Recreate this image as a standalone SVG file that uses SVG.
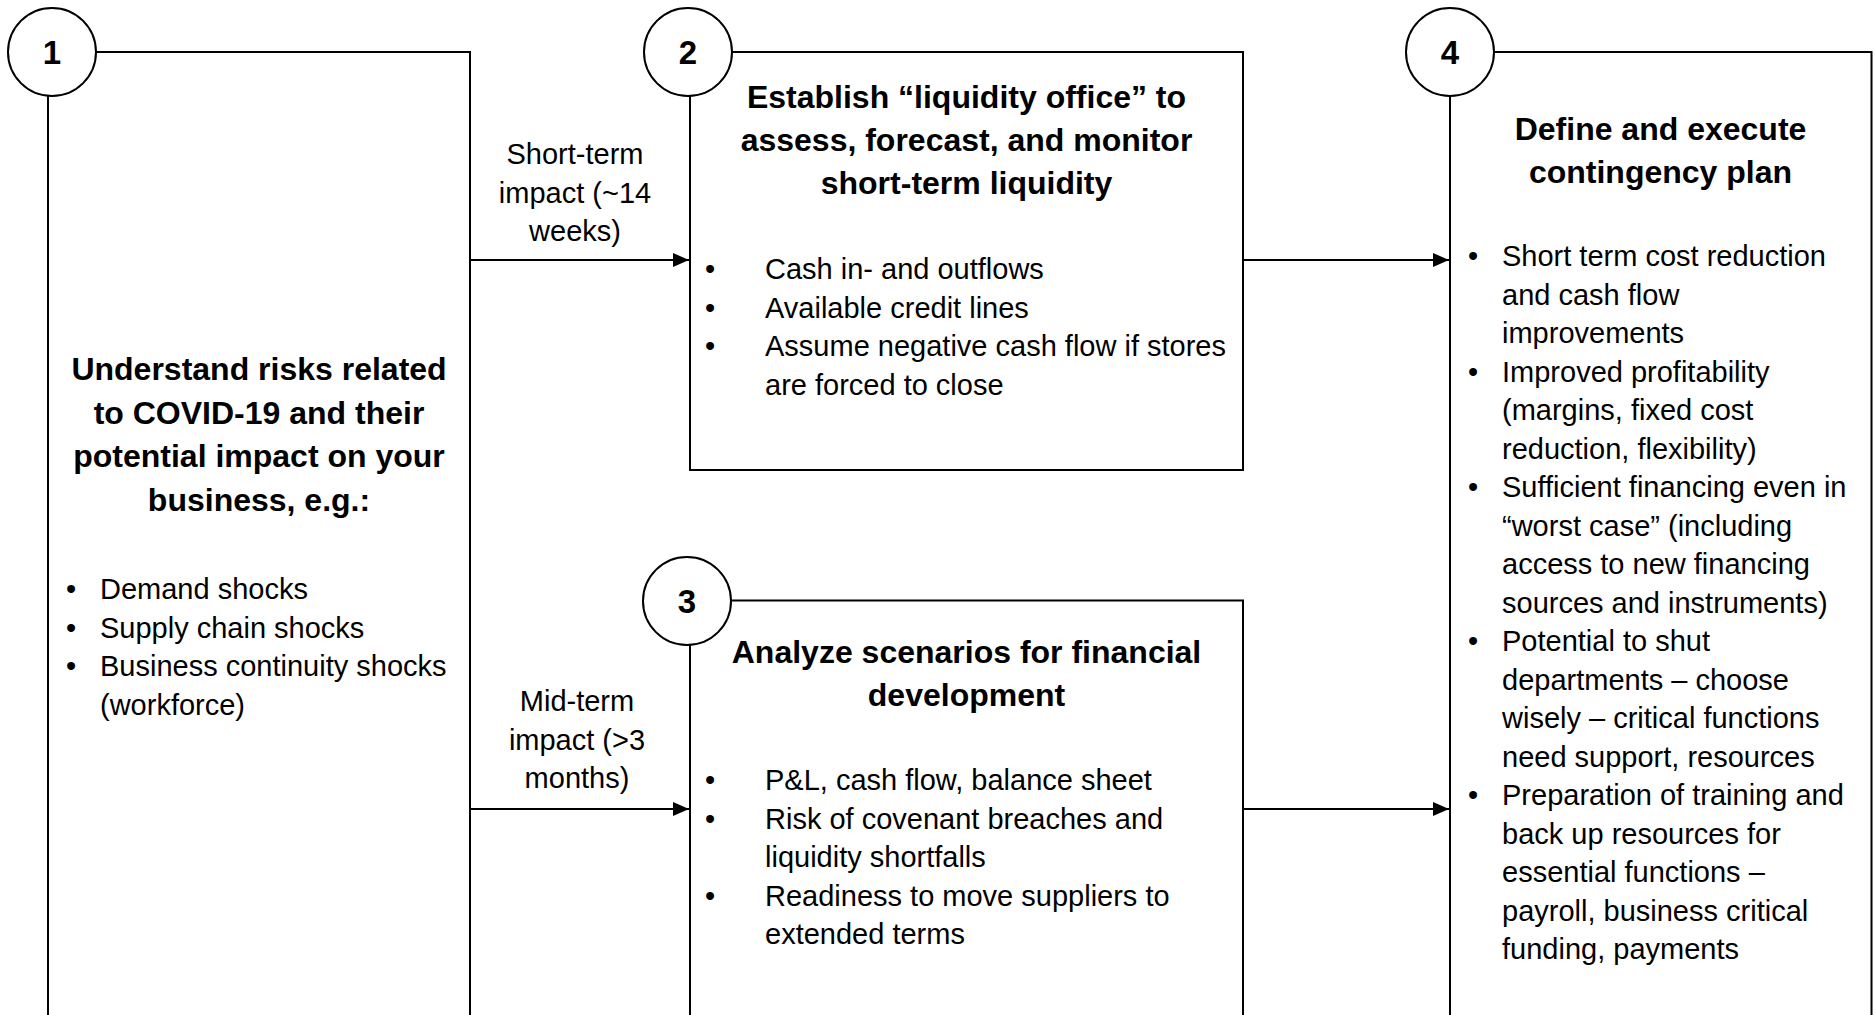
<svg xmlns="http://www.w3.org/2000/svg" width="1875" height="1015" viewBox="0 0 1875 1015">
<defs>
<style>
.box{fill:none;stroke:#000;stroke-width:2}
.badge{fill:#fff;stroke:#000;stroke-width:2}
.num{font-family:"Liberation Sans",Arial,sans-serif;font-weight:bold;font-size:33px;text-anchor:middle;fill:#000}
.title{font-family:"Liberation Sans",Arial,sans-serif;font-weight:bold;font-size:32px;text-anchor:middle;fill:#000}
.body{font-family:"Liberation Sans",Arial,sans-serif;font-size:29px;fill:#000}
.bul{text-anchor:middle}
.lbl{font-family:"Liberation Sans",Arial,sans-serif;font-size:29px;text-anchor:middle;fill:#000}
.conn{stroke:#000;stroke-width:2;fill:none;marker-end:url(#arr)}
</style>
<marker id="arr" markerUnits="userSpaceOnUse" viewBox="0 0 16 14" refX="16" refY="7" markerWidth="16" markerHeight="14" orient="auto">
<path d="M0,0 L16,7 L0,14 z" fill="#000"/>
</marker>
</defs>
<rect width="1875" height="1015" fill="#fff"/>

<g id="connectors">
<line class="conn" x1="471" y1="260" x2="689" y2="260"/>
<line class="conn" x1="1244" y1="260" x2="1449" y2="260"/>
<line class="conn" x1="471" y1="809" x2="689" y2="809"/>
<line class="conn" x1="1244" y1="809" x2="1449" y2="809"/>
<text class="lbl" x="575" y="164">Short-term</text>
<text class="lbl" x="575" y="202.5">impact (~14</text>
<text class="lbl" x="575" y="241">weeks)</text>
<text class="lbl" x="577" y="711">Mid-term</text>
<text class="lbl" x="577" y="749.5">impact (&gt;3</text>
<text class="lbl" x="577" y="788">months)</text>
</g>

<g id="node1">
<path class="box" d="M48,1030 V52 H470 V1030"/>
<circle class="badge" cx="52" cy="52" r="44"/>
<text class="num" x="52" y="64">1</text>
<text class="title" x="259" y="380">Understand risks related</text>
<text class="title" x="259" y="423.5">to COVID-19 and their</text>
<text class="title" x="259" y="467">potential impact on your</text>
<text class="title" x="259" y="510.5">business, e.g.:</text>
<g class="body">
<text class="bul" x="71" y="599">•</text><text x="100" y="599">Demand shocks</text>
<text class="bul" x="71" y="637.5">•</text><text x="100" y="637.5">Supply chain shocks</text>
<text class="bul" x="71" y="676">•</text><text x="100" y="676">Business continuity shocks</text>
<text x="100" y="714.5">(workforce)</text>
</g>
</g>

<g id="node2">
<rect class="box" x="690" y="52" width="553" height="418"/>
<circle class="badge" cx="688" cy="52" r="44"/>
<text class="num" x="688" y="64">2</text>
<text class="title" x="966.5" y="108">Establish “liquidity office” to</text>
<text class="title" x="966.5" y="151">assess, forecast, and monitor</text>
<text class="title" x="966.5" y="194">short-term liquidity</text>
<g class="body">
<text class="bul" x="710" y="279">•</text><text x="765" y="279">Cash in- and outflows</text>
<text class="bul" x="710" y="317.5">•</text><text x="765" y="317.5">Available credit lines</text>
<text class="bul" x="710" y="356">•</text><text x="765" y="356">Assume negative cash flow if stores</text>
<text x="765" y="394.5">are forced to close</text>
</g>
</g>

<g id="node3">
<path class="box" d="M690,1030 V600.5 H1243 V1030"/>
<circle class="badge" cx="687" cy="601" r="44"/>
<text class="num" x="687" y="613">3</text>
<text class="title" x="966.5" y="663">Analyze scenarios for financial</text>
<text class="title" x="966.5" y="706">development</text>
<g class="body">
<text class="bul" x="710" y="790">•</text><text x="765" y="790">P&amp;L, cash flow, balance sheet</text>
<text class="bul" x="710" y="828.5">•</text><text x="765" y="828.5">Risk of covenant breaches and</text>
<text x="765" y="867">liquidity shortfalls</text>
<text class="bul" x="710" y="905.5">•</text><text x="765" y="905.5">Readiness to move suppliers to</text>
<text x="765" y="944">extended terms</text>
</g>
</g>

<g id="node4">
<path class="box" d="M1450,1030 V52 H1871.5 V1030"/>
<circle class="badge" cx="1450" cy="52" r="44"/>
<text class="num" x="1450" y="64">4</text>
<text class="title" x="1660.5" y="139.5">Define and execute</text>
<text class="title" x="1660.5" y="182.5">contingency plan</text>
<g class="body">
<text class="bul" x="1473" y="266">•</text><text x="1502" y="266">Short term cost reduction</text>
<text x="1502" y="304.5">and cash flow</text>
<text x="1502" y="343">improvements</text>
<text class="bul" x="1473" y="381.5">•</text><text x="1502" y="381.5">Improved profitability</text>
<text x="1502" y="420">(margins, fixed cost</text>
<text x="1502" y="458.5">reduction, flexibility)</text>
<text class="bul" x="1473" y="497">•</text><text x="1502" y="497">Sufficient financing even in</text>
<text x="1502" y="535.5">“worst case” (including</text>
<text x="1502" y="574">access to new financing</text>
<text x="1502" y="612.5">sources and instruments)</text>
<text class="bul" x="1473" y="651">•</text><text x="1502" y="651">Potential to shut</text>
<text x="1502" y="689.5">departments – choose</text>
<text x="1502" y="728">wisely – critical functions</text>
<text x="1502" y="766.5">need support, resources</text>
<text class="bul" x="1473" y="805">•</text><text x="1502" y="805">Preparation of training and</text>
<text x="1502" y="843.5">back up resources for</text>
<text x="1502" y="882">essential functions –</text>
<text x="1502" y="920.5">payroll, business critical</text>
<text x="1502" y="959">funding, payments</text>
</g>
</g>
</svg>
